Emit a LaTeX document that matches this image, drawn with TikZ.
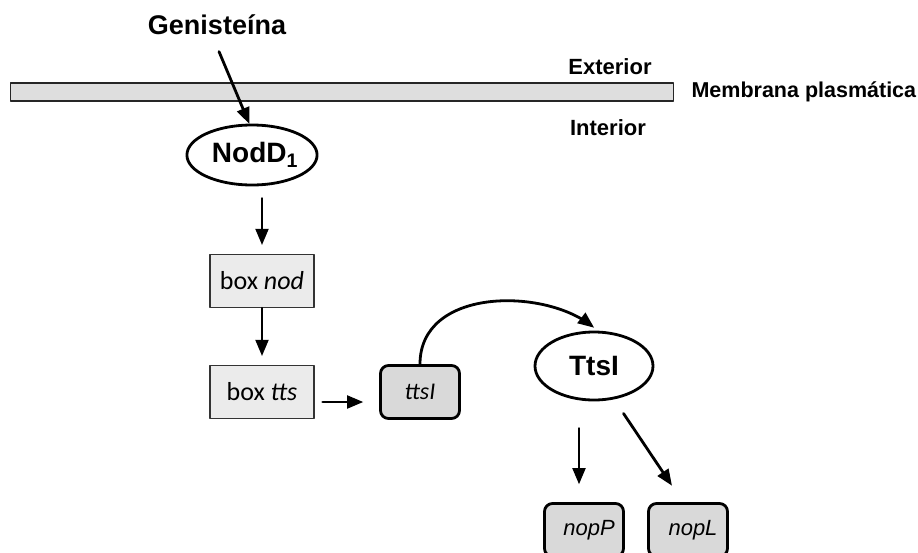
\documentclass[tikz,border=0pt]{standalone}
\usepackage{fontspec}
\setmainfont{Liberation Sans}
\newfontfamily\calib{Carlito}
\usetikzlibrary{arrows}
\usetikzlibrary{shapes.geometric}
\tikzset{
kalvo/.style={draw=black!85,fill=black!13,line width=1.3pt,minimum width=663pt,minimum height=18pt,inner sep=0pt},
laatikko/.style={draw=black!80,fill=black!8,line width=1.3pt,minimum width=104pt,minimum height=53pt,inner sep=0pt,font=\calib\fontsize{26}{30}\selectfont},
geeni/.style={draw,fill=black!15,line width=2.8pt,rounded corners=8pt,minimum width=79pt,minimum height=53pt,inner sep=0pt},
proteiini/.style={draw,ellipse,line width=2.8pt,inner sep=0pt,font=\bfseries\fontsize{28}{32}\selectfont},
nuoli/.style={->,line width=2.8pt}
}

\begin{document}
\begin{tikzpicture}[line cap=round,line join=round,>=triangle 45,x=1pt,y=-1pt]
\useasboundingbox (0,0) rectangle (918,552);
\clip (0,0) rectangle (918,552);
%kalvo
\node [kalvo] (kalvo) at (342,92) {};
\node (gen) at (217,25) {\bfseries\fontsize{27}{32}\selectfont Genisteína};
\node (ext) at (610,67) {\bfseries\fontsize{22}{26}\selectfont Exterior};
\node (int) at (608,128) {\bfseries\fontsize{22}{26}\selectfont Interior};
\node [anchor=west] (kalvonimi) at (688,92) {\bfseries\fontsize{21.5}{25}\selectfont Membrana plasmática};

%solut
\node [proteiini,minimum width=122pt,minimum height=60pt] (nodd) at (252,155) {\hspace{6pt}NodD\textsubscript{1}};
\node [laatikko] (boxnod) at (262,281) {box \textit{nod}};
\node [laatikko] (boxtts) at (262,392) {box \textit{tts}};
\node [geeni,font=\calib\itshape\fontsize{24}{28}\selectfont] (ttsi) at (420,392) {ttsI};
\node [proteiini,minimum width=118pt,minimum height=68pt] (ttsl) at (594,366) {TtsI};
\node [geeni,font=\itshape\fontsize{22}{26}\selectfont] (nopp) at (584,530) {\hspace{10pt}nopP};
\node [geeni,font=\itshape\fontsize{22}{26}\selectfont] (nopl) at (688,530) {\hspace{10pt}nopL};

%nuolet
\draw [nuoli] ([xshift=2pt,yshift=-13pt]gen.south) -- (nodd.95);
\draw [nuoli,shorten <=12pt,shorten >=9pt] (nodd.south -| boxnod.north) -- (boxnod.north);
\draw [nuoli,shorten >=9pt] (boxnod.south) -- (boxtts.north);
\draw [nuoli,shorten <=8pt,shorten >=16pt] ([yshift=-10pt]boxtts.east) -- ([yshift=-10pt]boxtts.east -| ttsi.west);
\draw [nuoli] (ttsi.north) .. controls +(0,-76) and +(-52,-40) .. ([yshift=3pt]ttsl.north);
\coordinate (p) at ([xshift=-5pt]nopp.north);
\draw [nuoli,shorten <=27pt,shorten >=18pt] (ttsl.south -| p) -- (p);
\draw [nuoli,shorten <=17pt,shorten >=20pt] (ttsl.-59.5) -- ([xshift=-5pt]nopl.north);
\end{tikzpicture}
\end{document}
